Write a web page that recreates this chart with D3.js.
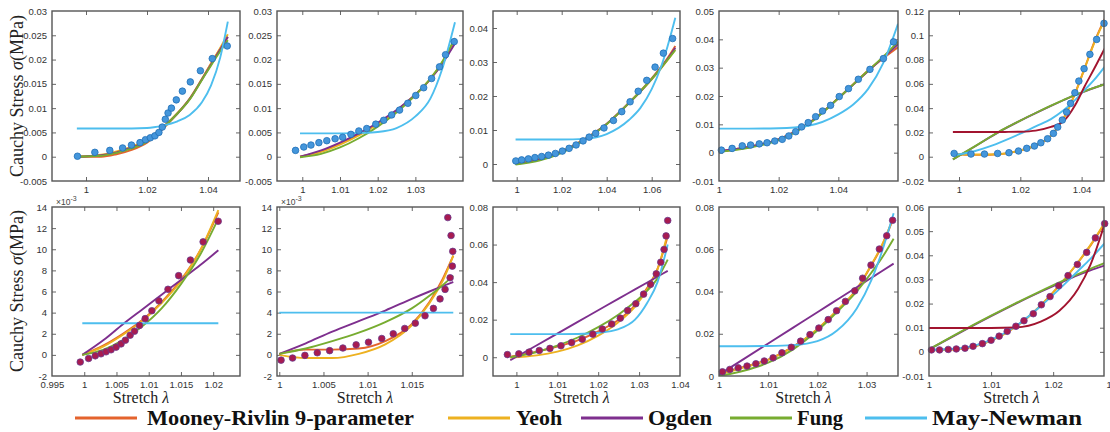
<!DOCTYPE html>
<html><head><meta charset="utf-8">
<script src="https://cdn.jsdelivr.net/npm/d3@7"></script>
<style>body{margin:0;background:#fff}svg{display:block}</style>
</head><body><svg id="chart" width="1110" height="432"></svg>
<script>
// ---------- data (one entry per panel, row by row) ----------
const xDomains = [[0.98885,1.05049],[0.99329,1.04263],[0.98947,1.07258],[1,1.06],[0.99021,1.0473],
                  [0.995,1.02416],[0.99974,1.0208],[0.99428,1.04],[1,1.03639],[1,1.02819]];
const yDomains = [[-0.005,0.03],[-0.005,0.03],[-0.005,0.045],[-0.01,0.05],[-0.02,0.12],
                  [-0.002,0.014],[-0.002,0.014],[-0.01,0.08],[0,0.08],[-0.01,0.06]];
const xTicks = [[1,1.02,1.04],[1,1.01,1.02,1.03],[1,1.02,1.04,1.06],[1,1.02,1.04],[1,1.02,1.04],
                [0.995,1,1.005,1.01,1.015,1.02],[1,1.005,1.01,1.015],[1,1.01,1.02,1.03,1.04],[1,1.01,1.02,1.03],[1,1.01,1.02,1.03]];
const yTicks = [[-0.005,0,0.005,0.01,0.015,0.02,0.025,0.03],[-0.005,0,0.005,0.01,0.015,0.02,0.025,0.03],
                [0,0.01,0.02,0.03,0.04],[-0.01,0,0.01,0.02,0.03,0.04,0.05],[-0.02,0,0.02,0.04,0.06,0.08,0.1,0.12],
                [-0.002,0,0.002,0.004,0.006,0.008,0.01,0.012,0.014],[-0.002,0,0.002,0.004,0.006,0.008,0.01,0.012,0.014],
                [0,0.02,0.04,0.06,0.08],[0,0.02,0.04,0.06,0.08],[-0.01,0,0.01,0.02,0.03,0.04,0.05,0.06]];
const yScaledE3 = [false,false,false,false,false,true,true,false,false,false];

// model curves sampled on a per-panel stretch grid
const stretchGrid = [
 [0.997,1.005,1.01,1.015,1.02,1.025,1.03,1.034,1.038,1.041,1.044,1.0465],
 [0.9994,1.005,1.01,1.015,1.02,1.025,1.03,1.034,1.037,1.0405],
 [0.9995,1.01,1.02,1.03,1.04,1.05,1.055,1.06,1.064,1.067,1.0705],
 [1,1.01,1.02,1.03,1.04,1.045,1.05,1.055,1.06],
 [0.998,1.005,1.01,1.015,1.02,1.025,1.03,1.034,1.038,1.041,1.044,1.0475],
 [0.9997,1.003,1.006,1.009,1.012,1.015,1.018,1.0208],
 [1,1.003,1.006,1.009,1.012,1.015,1.017,1.0185,1.0197],
 [0.9985,1.005,1.01,1.015,1.02,1.025,1.029,1.032,1.0345,1.037],
 [1,1.005,1.01,1.015,1.02,1.024,1.028,1.031,1.033,1.0355],
 [1,1.005,1.01,1.014,1.018,1.021,1.024,1.026,1.0283]
];
const mooneyRivlin = [
 [0,0.0000,0.0005,0.0014,0.0029,0.0056,0.0089,0.0119,0.0160,0.0192,0.0222,0.0246],
 [0,0.0011,0.0027,0.0046,0.0068,0.0094,0.0127,0.0160,0.0191,0.0236],
 [0,0.0013,0.0036,0.0072,0.0118,0.0181,0.0215,0.0252,0.0284,0.0311,0.0347],
 [0.0005,0.0021,0.0048,0.0104,0.0193,0.0242,0.0290,0.0333,0.0372],
 [0.0025,0.0015,0.0016,0.0025,0.0052,0.0092,0.0172,0.0310,0.0530,0.0730,0.0935,0.1135],
 [0,0.0009,0.0020,0.0033,0.0050,0.0071,0.0099,0.0135],
 [0.0001,0.0005,0.0005,0.0006,0.0013,0.0029,0.0050,0.0072,0.0094],
 [0.0003,0.0030,0.0057,0.0090,0.0138,0.0200,0.0278,0.0370,0.0470,0.0645],
 [0.0012,0.0043,0.0078,0.0138,0.0222,0.0310,0.0410,0.0525,0.0610,0.0750],
 [0.0008,0.0013,0.0047,0.0105,0.0192,0.0275,0.0370,0.0440,0.0531]
];
const yeoh = [
 [0,0.0004,0.0011,0.0021,0.0035,0.0060,0.0090,0.0120,0.0160,0.0192,0.0224,0.0252],
 [0,0.0010,0.0025,0.0044,0.0067,0.0094,0.0128,0.0161,0.0193,0.0240],
 [0.0001,0.0015,0.0038,0.0073,0.0118,0.0180,0.0213,0.0249,0.0280,0.0305,0.0337],
 [0.0004,0.0019,0.0047,0.0103,0.0192,0.0240,0.0288,0.0336,0.0388],
 [0.0020,0.0018,0.0018,0.0027,0.0052,0.0094,0.0174,0.0310,0.0528,0.0728,0.0930,0.1125],
 [0,0.0008,0.0019,0.0032,0.0049,0.0070,0.0099,0.0137],
 [0,-0.0003,-0.0003,0.0001,0.0010,0.0028,0.0049,0.0070,0.0094],
 [-0.0002,0.0010,0.0030,0.0063,0.0115,0.0188,0.0270,0.0362,0.0468,0.0660],
 [0.0008,0.0040,0.0076,0.0136,0.0221,0.0310,0.0412,0.0528,0.0614,0.0752],
 [0.0006,0.0012,0.0046,0.0104,0.0192,0.0275,0.0371,0.0442,0.0535]
];
const ogden = [
 [0,0.0003,0.0009,0.0019,0.0033,0.0059,0.0089,0.0119,0.0159,0.0190,0.0221,0.0247],
 [0,0.0013,0.0029,0.0048,0.0070,0.0096,0.0128,0.0160,0.0190,0.0233],
 [0,0.0013,0.0036,0.0072,0.0118,0.0180,0.0213,0.0250,0.0282,0.0308,0.0342],
 [0.0005,0.0020,0.0047,0.0103,0.0192,0.0240,0.0288,0.0335,0.0383],
 [-0.0022,0.0082,0.0159,0.0232,0.0297,0.0359,0.0419,0.0465,0.0509,0.0538,0.0566,0.0596],
 [0,0.0014,0.0029,0.0043,0.0057,0.0071,0.0085,0.0099],
 [0.0001,0.0011,0.0022,0.0032,0.0042,0.0053,0.0060,0.0065,0.0069],
 [-0.0016,0.0064,0.0126,0.0188,0.0250,0.0312,0.0361,0.0398,0.0429,0.0460],
 [0.0006,0.0080,0.0154,0.0228,0.0302,0.0361,0.0420,0.0465,0.0495,0.0532],
 [0.0010,0.0080,0.0148,0.0200,0.0249,0.0284,0.0318,0.0338,0.0358]
];
const fung = [
 [0,0.0002,0.0008,0.0017,0.0031,0.0058,0.0089,0.0118,0.0158,0.0188,0.0217,0.0240],
 [-0.0001,0.0006,0.0019,0.0038,0.0062,0.0091,0.0127,0.0161,0.0194,0.0244],
 [-0.0002,0.0010,0.0033,0.0070,0.0117,0.0180,0.0214,0.0250,0.0281,0.0306,0.0335],
 [0.0003,0.0017,0.0044,0.0101,0.0192,0.0241,0.0290,0.0338,0.0392],
 [-0.0022,0.0083,0.0160,0.0233,0.0298,0.0360,0.0420,0.0466,0.0510,0.0539,0.0567,0.0597],
 [0,0.0005,0.0014,0.0027,0.0044,0.0067,0.0095,0.0129],
 [0.0001,0.0006,0.0013,0.0021,0.0031,0.0044,0.0056,0.0066,0.0075],
 [0,0.0028,0.0062,0.0105,0.0160,0.0228,0.0295,0.0355,0.0420,0.0520],
 [0,0.0025,0.0063,0.0125,0.0215,0.0303,0.0400,0.0490,0.0555,0.0650],
 [0.0010,0.0082,0.0150,0.0202,0.0252,0.0288,0.0322,0.0344,0.0368]
];
const mayNewman = [
 [0.0058,0.0058,0.0058,0.0058,0.0059,0.0064,0.0073,0.0086,0.0112,0.0147,0.0204,0.0278],
 [0.0048,0.0048,0.0048,0.0049,0.0051,0.0059,0.0083,0.0120,0.0178,0.0277],
 [0.0072,0.0072,0.0072,0.0074,0.0088,0.0130,0.0165,0.0220,0.0283,0.0345,0.0430],
 [0.0085,0.0085,0.0086,0.0095,0.0135,0.0170,0.0225,0.0315,0.0455],
 [0.0012,0.0045,0.0085,0.0135,0.0190,0.0250,0.0310,0.0380,0.0470,0.0550,0.0630,0.0740],
 [0.0030,0.0030,0.0030,0.0030,0.0030,0.0030,0.0030,0.0030],
 [0.0040,0.0040,0.0040,0.0040,0.0040,0.0040,0.0040,0.0040,0.0040],
 [0.0123,0.0123,0.0123,0.0124,0.0130,0.0150,0.0200,0.0290,0.0400,0.0600],
 [0.0141,0.0141,0.0142,0.0146,0.0165,0.0215,0.0320,0.0455,0.0580,0.0770],
 [0.0008,0.0015,0.0050,0.0107,0.0190,0.0260,0.0335,0.0385,0.0450]
];
// unlabelled dark-red curve visible in the right-most panels
const extraCurve = [null,null,null,null,
 [0.0203,0.0203,0.0203,0.0204,0.0206,0.0215,0.0245,0.0290,0.0430,0.0580,0.0720,0.0890],
 null,null,null,null,
 [0.0099,0.0099,0.0099,0.0101,0.0125,0.0170,0.0260,0.0360,0.0531]];

// experimental points
const dataStretch = [
 [0.9972,1.0029,1.0078,1.012,1.0149,1.0177,1.0195,1.0211,1.0226,1.0239,1.025,1.026,1.0269,1.028,1.0296,1.0316,1.0342,1.0375,1.0414,1.0463],
 [0.9982,1.0004,1.0023,1.0044,1.0065,1.0087,1.0107,1.0129,1.015,1.0171,1.0195,1.0216,1.0237,1.0258,1.028,1.0301,1.0322,1.0343,1.0364,1.038,1.0403],
 [0.9996,1.0022,1.0052,1.0081,1.0111,1.0141,1.0172,1.0203,1.0233,1.0264,1.0295,1.0322,1.0351,1.0388,1.043,1.0467,1.0504,1.054,1.0578,1.0615,1.0652,1.0693],
 [1.0008,1.0044,1.0078,1.0106,1.0135,1.0161,1.0187,1.0212,1.0234,1.0257,1.0277,1.0299,1.0324,1.0347,1.0374,1.0403,1.0434,1.0467,1.0506,1.0551,1.0585],
 [0.9984,1.0039,1.0083,1.0126,1.0163,1.0194,1.0221,1.0246,1.0267,1.0289,1.0308,1.0322,1.0337,1.0351,1.0364,1.0378,1.0391,1.0408,1.0427,1.0449,1.0473],
 [0.99938,1.00068,1.00171,1.0026,1.00338,1.00416,1.00494,1.00571,1.00639,1.00712,1.0078,1.00857,1.00945,1.01049,1.01158,1.01299,1.01465,1.01647,1.01844,1.02078],
 [1.0002,1.0015,1.0029,1.0043,1.0057,1.0072,1.0087,1.0101,1.0116,1.0129,1.0142,1.0154,1.0165,1.01745,1.0182,1.01877,1.01934,1.01959,1.01964,1.01945,1.01908],
 [0.9978,1.0006,1.0031,1.0056,1.0082,1.0109,1.0135,1.0161,1.0187,1.021,1.0233,1.0254,1.0272,1.0292,1.0311,1.0328,1.0342,1.0353,1.0361,1.0366,1.037],
 [1.0007,1.0022,1.0039,1.0057,1.0075,1.0092,1.011,1.0128,1.0147,1.0166,1.0185,1.0203,1.0222,1.0239,1.0257,1.0276,1.0292,1.0309,1.0326,1.0341,1.0353],
 [1.0004,1.0017,1.0031,1.0044,1.0058,1.0071,1.0086,1.01,1.0113,1.0126,1.014,1.0153,1.0168,1.0181,1.0195,1.0209,1.0224,1.0239,1.0254,1.0268,1.0283]
];
const dataStress = [
 [0.0001,0.0009,0.0013,0.0018,0.0024,0.0029,0.0035,0.0039,0.0043,0.0050,0.0061,0.0077,0.0090,0.0100,0.0117,0.0135,0.0154,0.0177,0.0202,0.0228],
 [0.0013,0.0020,0.0024,0.0029,0.0033,0.0037,0.0040,0.0046,0.0053,0.0058,0.0067,0.0075,0.0086,0.0096,0.0110,0.0126,0.0142,0.0161,0.0185,0.0210,0.0237],
 [0.0009,0.0012,0.0015,0.0019,0.0022,0.0026,0.0031,0.0038,0.0046,0.0056,0.0068,0.0079,0.0090,0.0106,0.0128,0.0154,0.0183,0.0214,0.0246,0.0285,0.0326,0.0369],
 [0.0009,0.0015,0.0024,0.0027,0.0031,0.0035,0.0041,0.0047,0.0059,0.0074,0.0091,0.0106,0.0127,0.0147,0.0167,0.0198,0.0226,0.0259,0.0294,0.0332,0.0391],
 [0.0027,0.0022,0.0022,0.0027,0.0033,0.0047,0.0069,0.0088,0.0115,0.0148,0.0192,0.0244,0.0302,0.0368,0.0439,0.0527,0.0623,0.0725,0.0843,0.0966,0.1098],
 [-0.00068,-0.00034,-0.00009,0.0001,0.00029,0.00048,0.00073,0.00104,0.00139,0.00186,0.00224,0.00278,0.00343,0.00418,0.00512,0.00621,0.0075,0.00898,0.0107,0.01265],
 [-0.0005,-0.0003,-0.00005,0.0002,0.0004,0.00065,0.00095,0.0012,0.00155,0.002,0.0025,0.003,0.0037,0.0044,0.0053,0.0062,0.0073,0.0084,0.0098,0.0113,0.013],
 [0.0014,0.0018,0.0027,0.0036,0.0047,0.0061,0.0078,0.0096,0.0123,0.0150,0.0177,0.0208,0.0249,0.0285,0.0336,0.0388,0.0444,0.0506,0.0574,0.0646,0.0728],
 [0.0020,0.0031,0.0039,0.0047,0.0058,0.0071,0.0086,0.0110,0.0136,0.0165,0.0196,0.0227,0.0267,0.0309,0.0353,0.0403,0.0463,0.0525,0.0601,0.0664,0.0737],
 [0.0008,0.0008,0.0010,0.0012,0.0015,0.0023,0.0034,0.0048,0.0065,0.0085,0.0106,0.0129,0.0158,0.0195,0.0229,0.0274,0.0316,0.0362,0.0412,0.0472,0.0531]
];
const legendNames = ['Mooney-Rivlin 9-parameter','Yeoh','Ogden','Fung','May-Newman'];

// ---------- layout & style ----------
const colBounds = [[52,240],[277,463],[493,680],[719,898],[929,1104]];
const rowBounds = [[11,181],[207,376]];
const modelColors = ['#E4632D','#EDB120','#7E2F8E','#77AC30','#4DBEEE'];
const modelSeries = [mooneyRivlin, yeoh, ogden, fung, mayNewman];
const extraColor = '#A2142F';
const tickFont = 'Liberation Sans, Arial, sans-serif';
const serif = 'Liberation Serif, Times New Roman, serif';

const svg = d3.select('#chart');
const defs = svg.append('defs');

for (let i = 0; i < 10; i++) {
  const r = Math.floor(i / 5), c = i % 5;
  const [x0, x1] = colBounds[c], [y0, y1] = rowBounds[r];
  const x = d3.scaleLinear().domain(xDomains[i]).range([x0, x1]);
  const y = d3.scaleLinear().domain(yDomains[i]).range([y1, y0]);
  const g = svg.append('g');
  const clipId = 'clip' + i;
  defs.append('clipPath').attr('id', clipId).append('rect')
    .attr('x', x0).attr('y', y0).attr('width', x1 - x0).attr('height', y1 - y0);

  const fmtY = v => yScaledE3[i] ? String(Math.round(v * 1000)) : String(+v.toFixed(4));
  // axes (ticks point inward)
  const axB = g.append('g').attr('transform', `translate(0,${y1})`)
    .call(d3.axisBottom(x).tickValues(xTicks[i]).tickSizeInner(-4).tickSizeOuter(0).tickPadding(5).tickFormat(v => String(v)));
  const axT = g.append('g').attr('transform', `translate(0,${y0})`)
    .call(d3.axisTop(x).tickValues(xTicks[i].filter(v => v > xDomains[i][0] && v < xDomains[i][1])).tickSizeInner(-4).tickSizeOuter(0).tickFormat(''));
  const axL = g.append('g').attr('transform', `translate(${x0},0)`)
    .call(d3.axisLeft(y).tickValues(yTicks[i]).tickSizeInner(-4).tickSizeOuter(0).tickPadding(5).tickFormat(fmtY));
  const axR = g.append('g').attr('transform', `translate(${x1},0)`)
    .call(d3.axisRight(y).tickValues(yTicks[i].filter(v => v > yDomains[i][0] && v < yDomains[i][1])).tickSizeInner(-4).tickSizeOuter(0).tickFormat(''));
  [axB, axT, axL, axR].forEach(a => {
    a.select('.domain').remove();
    a.selectAll('line').attr('stroke', '#666').attr('stroke-width', 1);
    a.selectAll('text').attr('font-family', tickFont).attr('font-size', 9.5).attr('fill', '#333');
  });
  axB.selectAll('.tick').filter(v => v > xDomains[i][0] + 1e-9 && v < xDomains[i][1] - 1e-9 ? false : true).select('line').remove();
  axL.selectAll('.tick').filter(v => v > yDomains[i][0] + 1e-9 && v < yDomains[i][1] - 1e-9 ? false : true).select('line').remove();

  // curves
  const plot = g.append('g').attr('clip-path', `url(#${clipId})`);
  const line = d3.line().x(d => x(d[0])).y(d => y(d[1])).curve(d3.curveMonotoneX);
  modelSeries.forEach((series, m) => {
    plot.append('path')
      .datum(stretchGrid[i].map((s, k) => [s, series[i][k]]))
      .attr('d', line).attr('fill', 'none').attr('stroke', modelColors[m]).attr('stroke-width', 1.9);
  });
  if (extraCurve[i]) {
    plot.append('path')
      .datum(stretchGrid[i].map((s, k) => [s, extraCurve[i][k]]))
      .attr('d', line).attr('fill', 'none').attr('stroke', extraColor).attr('stroke-width', 1.9);
  }

  // data points
  g.append('g').selectAll('circle')
    .data(dataStretch[i].map((s, k) => [s, dataStress[i][k]]))
    .join('circle')
    .attr('cx', d => x(d[0])).attr('cy', d => y(d[1])).attr('r', 3.3)
    .attr('fill', r === 0 ? '#4496DB' : '#A81B50')
    .attr('stroke', r === 0 ? '#2170B8' : '#6A3A8E').attr('stroke-width', 0.8);

  // frame
  g.append('rect').attr('x', x0).attr('y', y0).attr('width', x1 - x0).attr('height', y1 - y0)
    .attr('fill', 'none').attr('stroke', '#555').attr('stroke-width', 1.4);

  if (yScaledE3[i]) {
    const t = g.append('text').attr('x', x0 + 4).attr('y', y0 - 2)
      .attr('font-family', tickFont).attr('font-size', 8.5).attr('fill', '#444');
    t.append('tspan').text('×10');
    t.append('tspan').attr('dy', -4).attr('font-size', 7).text('-3');
  }
  if (r === 1) {
    const t = g.append('text').attr('x', (x0 + x1) / 2 - 5).attr('y', 403)
      .attr('text-anchor', 'middle').attr('font-family', serif).attr('font-size', 16).attr('fill', '#222');
    t.append('tspan').text('Stretch ');
    t.append('tspan').attr('font-style', 'italic').text('λ');
  }
}

// y-axis titles
[96, 291].forEach(cy => {
  const t = svg.append('text').attr('transform', `translate(23,${cy}) rotate(-90)`)
    .attr('text-anchor', 'middle').attr('font-family', serif).attr('font-size', 18).attr('fill', '#222');
  t.append('tspan').text('Cauchy Stress ');
  t.append('tspan').attr('font-style', 'italic').text('σ');
  t.append('tspan').text('(MPa)');
});

// legend
const legLineX = [75, 448, 581, 730, 865];
const legTextX = [147, 516, 648, 797, 932];
const legTextW = [267, 46, 64, 46, 150];
legendNames.forEach((name, k) => {
  svg.append('line').attr('x1', legLineX[k]).attr('x2', legLineX[k] + 62).attr('y1', 418).attr('y2', 418)
    .attr('stroke', modelColors[k]).attr('stroke-width', 3);
  svg.append('text').attr('x', legTextX[k]).attr('y', 425).attr('font-family', serif).attr('font-weight', 'bold')
    .attr('font-size', 22).attr('fill', '#111').attr('textLength', legTextW[k]).attr('lengthAdjust', 'spacingAndGlyphs').text(name);
});
</script></body></html>
